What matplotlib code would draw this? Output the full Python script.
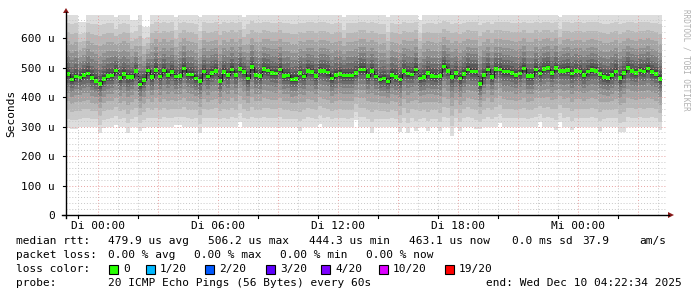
import numpy as np
import matplotlib
matplotlib.use("Agg")
import matplotlib.pyplot as plt
from matplotlib.lines import Line2D
from matplotlib.patches import Polygon, Rectangle

#-- median rtt per 12-minute step (microseconds)
median_us = [478, 459, 470, 466, 475, 480, 464, 455, 444, 461, 472, 473, 490, 464, 478, 467,
             468, 488, 443, 457, 490, 467, 492, 470, 490, 475, 485, 470, 472, 497, 477, 476,
             463, 455, 486, 470, 482,
             489, 455, 485, 475, 493, 475, 495, 485, 462, 501, 475, 472, 495, 490, 481, 480,
             494, 472, 473, 460, 461, 481, 470, 489, 485, 471, 489, 488, 483, 463, 475, 478,
             473, 473, 473, 481, 494,
             493, 472, 489, 470, 459, 463, 452, 475, 468, 460, 488, 480, 477, 494, 463, 467,
             481, 472, 469, 472, 504, 489, 468, 481, 463, 478, 494, 487, 487, 444, 475, 494,
             468, 495, 494, 486, 486,
             481, 475, 480, 497, 471, 471, 493, 480, 495, 499, 481, 498, 489, 489, 492, 480,
             488, 486, 475, 486, 492, 489, 478, 468, 464, 475, 487, 464, 481, 499, 488, 482,
             490, 487, 497, 484, 478, 461]

#-- lowest and highest of the 20 pings per step (microseconds)
lowest_us = [296, 293, 293, 298, 300, 298, 297, 299, 279, 296, 298, 300, 305, 298, 297, 279,
             298, 299, 285, 296, 298, 300, 298, 297, 299, 298, 298, 305, 305, 299, 298, 297,
             300, 279, 298, 299, 297, 298, 300, 298, 297, 298, 299, 315, 298, 297, 300, 298,
             299, 298, 297, 300, 298, 299, 298, 297, 298, 300, 285, 298, 299, 297, 298, 310,
             298, 300, 297, 298, 299, 298, 297, 300, 322, 298, 299, 298, 279, 297, 300, 298,
             299, 298, 297, 281, 298, 279, 299, 285, 298, 300, 285, 297, 298, 284, 299, 298,
             268, 297, 285, 298, 300, 298, 290, 290, 297, 299, 298, 300, 313, 298, 297, 299,
             298, 300, 297, 298, 299, 298, 315, 297, 300, 298, 288, 316, 298, 299, 288, 297,
             298, 300, 298, 299, 297, 285, 298, 300, 299, 298, 281, 281, 297, 298, 300, 299,
             298, 297, 300, 298, 288]
highest_us = [700, 700, 700, 655, 655, 700, 700, 700, 700, 700, 700, 700, 670, 700, 700, 700,
              660, 660, 700, 637, 637, 700, 700, 700, 700, 700, 700, 670, 700, 700, 700, 700,
              700, 670, 700, 700, 700, 700, 700, 700, 700, 700, 700, 700, 670, 700, 700, 700,
              700, 700, 700, 700, 700, 700, 700, 700, 700, 700, 700, 700, 700, 700, 700, 700,
              700, 700, 700, 700, 700, 670, 700, 700, 700, 700, 700, 700, 700, 700, 700, 700,
              670, 700, 700, 700, 700, 700, 700, 700, 660, 700, 700, 700, 700, 700, 700, 700,
              700, 700, 700, 700, 700, 700, 700, 700, 700, 700, 700, 700, 700, 700, 700, 700,
              700, 700, 700, 700, 700, 700, 700, 700, 700, 700, 700, 670, 700, 700, 700, 700,
              700, 700, 700, 700, 700, 700, 700, 700, 700, 700, 700, 700, 700, 700, 700, 700,
              700, 700, 700, 700, 700]

#-- where the sorted pings sit between lowest/median and median/highest (one typical column)
low_frac = [0.0, 0.167, 0.333, 0.5, 0.64, 0.75, 0.83, 0.9, 0.944, 0.978]
up_frac = [0.02, 0.055, 0.11, 0.18, 0.27, 0.37, 0.5, 0.64, 0.78, 1.0]

#-- axis text
xtick_hours = [0, 6, 12, 18, 24]
xtick_labels = ["Di 00:00", "Di 06:00", "Di 12:00", "Di 18:00", "Mi 00:00"]
ytick_us = [0, 100, 200, 300, 400, 500, 600]
ytick_labels = ["0", "100 u", "200 u", "300 u", "400 u", "500 u", "600 u"]

loss_labels = ["0", "1/20", "2/20", "3/20", "4/20", "10/20", "19/20"]
loss_colors = ["#26ff00", "#00b8ff", "#0059ff", "#5e00ff", "#7e00ff", "#dd00ff", "#ff0000"]

W, H = 697, 297
step_h = 0.2                              # 12 minutes
t_start = -(1 + 37/60 + 26/3600)          # Mo 22:22:34 relative to Di 00:00
t_end = t_start + 30
y_max = 678.0

med = np.array(median_us) * 1e-6
lo = np.array(lowest_us) * 1e-6
hi = np.array(highest_us) * 1e-6
n = len(med)
edges = t_start + step_h * np.arange(n + 1)

lower = [lo + f * (med - lo) for f in low_frac]
upper = [med + f * (hi - med) for f in up_frac]
pings = lower + upper                     # 20 sorted pings per step

fig = plt.figure(figsize=(W/100, H/100), dpi=100)
fig.patch.set_facecolor("white")

def fx(x):
    return x / W

def fy(y):
    return 1 - y / H

ax = fig.add_axes([fx(66), fy(215), 600/W, 200/H])
ax.set_xlim(t_start, t_end)
ax.set_ylim(0, y_max * 1e-6)
for s in ax.spines.values():
    s.set_visible(False)

#-- smoke: outer pairs light, inner pairs dark
half = 10
for k in range(half):
    c = int(190 / half * (half - (k + 1))) + 50
    col = "#%02x%02x%02x" % (c, c, c)
    ax.stairs(pings[19 - k], edges, baseline=pings[k], fill=True, color=col,
              linewidth=0, antialiased=False, zorder=1 + k)

#-- median line and loss colour band
ax.stairs(med, edges, baseline=None, color="#202020", linewidth=0.8, zorder=20)
sw = 6e-6
ax.stairs(med + sw, edges, baseline=med - sw, fill=True, color=loss_colors[0],
          linewidth=0, antialiased=False, zorder=21)

#-- grid (drawn on top like rrdtool)
dot = (0, (1, 2))
for h in np.arange(np.ceil(t_start), t_end, 1.0):
    major = int(round(h)) % 3 == 0
    ax.axvline(h, color="#e8a0a0" if major else "#c8c8c8", lw=0.7, ls=dot, zorder=30)
for v in np.arange(20, y_max, 20):
    major = int(v) % 100 == 0
    ax.axhline(v * 1e-6, color="#e8a0a0" if major else "#c8c8c8", lw=0.7, ls=dot, zorder=30)

ax.set_xticks(xtick_hours)
ax.set_xticklabels(xtick_labels)
ax.set_yticks(np.array(ytick_us) * 1e-6)
ax.set_yticklabels(ytick_labels)
ax.tick_params(axis="both", which="both", length=0, labelsize=8, colors="black")
ax.tick_params(axis="x", pad=4)
ax.tick_params(axis="y", pad=8)
for lab in ax.get_xticklabels() + ax.get_yticklabels():
    lab.set_family("DejaVu Sans Mono")

#-- axes with arrows
arrow_col = "#8b1a1a"
fig.add_artist(Line2D([fx(66), fx(66)], [fy(218), fy(12)], color="black", lw=1))
fig.add_artist(Line2D([fx(62), fx(669)], [fy(215), fy(215)], color="black", lw=1))
fig.add_artist(Polygon([[fx(63), fy(13)], [fx(69), fy(13)], [fx(66), fy(8)]],
                       closed=True, color=arrow_col, lw=0))
fig.add_artist(Polygon([[fx(668), fy(212)], [fx(668), fy(218)], [fx(674), fy(215)]],
                       closed=True, color=arrow_col, lw=0))
for h in np.arange(-1, 28.5, 3):
    xp = 66 + (h - t_start) * 20
    fig.add_artist(Line2D([fx(xp), fx(xp)], [fy(215), fy(218)], color="black", lw=0.8))
for v in ytick_us:
    yp = 215 - v * 200 / y_max
    fig.add_artist(Line2D([fx(63), fx(66)], [fy(yp), fy(yp)], color="black", lw=0.8))

mono = dict(family="DejaVu Sans Mono", fontsize=8, color="black", va="center")
fig.text(fx(11), fy(113), "Seconds", rotation=90, ha="center", **mono)
fig.text(fx(686), fy(60), "RRDTOOL / TOBI OETIKER", rotation=270, ha="center",
         va="center", family="DejaVu Sans Mono", fontsize=5.5, color="#b0b0b0")

#-- legend rows
r1, r2, r3, r4 = 241, 255, 269, 283
fig.text(fx(16), fy(r1), "median rtt:", ha="left", **mono)
for xp, s in [(108, "479.9 us avg"), (208, "506.2 us max"), (309, "444.3 us min"),
              (409, "463.1 us now"), (512, "0.0 ms sd"), (582, "37.9"), (639, "am/s")]:
    fig.text(fx(xp), fy(r1), s, ha="left", **mono)

fig.text(fx(16), fy(r2), "packet loss:", ha="left", **mono)
for xp, s in [(108, "0.00 % avg"), (194, "0.00 % max"), (280, "0.00 % min"), (366, "0.00 % now")]:
    fig.text(fx(xp), fy(r2), s, ha="left", **mono)

fig.text(fx(16), fy(r3), "loss color:", ha="left", **mono)
box_x = [109, 146, 205, 266, 321, 379, 445]
for bx, lab, col in zip(box_x, loss_labels, loss_colors):
    fig.add_artist(Rectangle((fx(bx), fy(r3 + 4.5)), 9/W, 9/H, facecolor=col,
                             edgecolor="black", lw=0.8))
    fig.text(fx(bx + 14), fy(r3), lab, ha="left", **mono)

fig.text(fx(16), fy(r4), "probe:", ha="left", **mono)
fig.text(fx(108), fy(r4), "20 ICMP Echo Pings (56 Bytes) every 60s", ha="left", **mono)
fig.text(fx(682), fy(r4), "end: Wed Dec 10 04:22:34 2025", ha="right", **mono)

fig.savefig("out.png", dpi=100)
